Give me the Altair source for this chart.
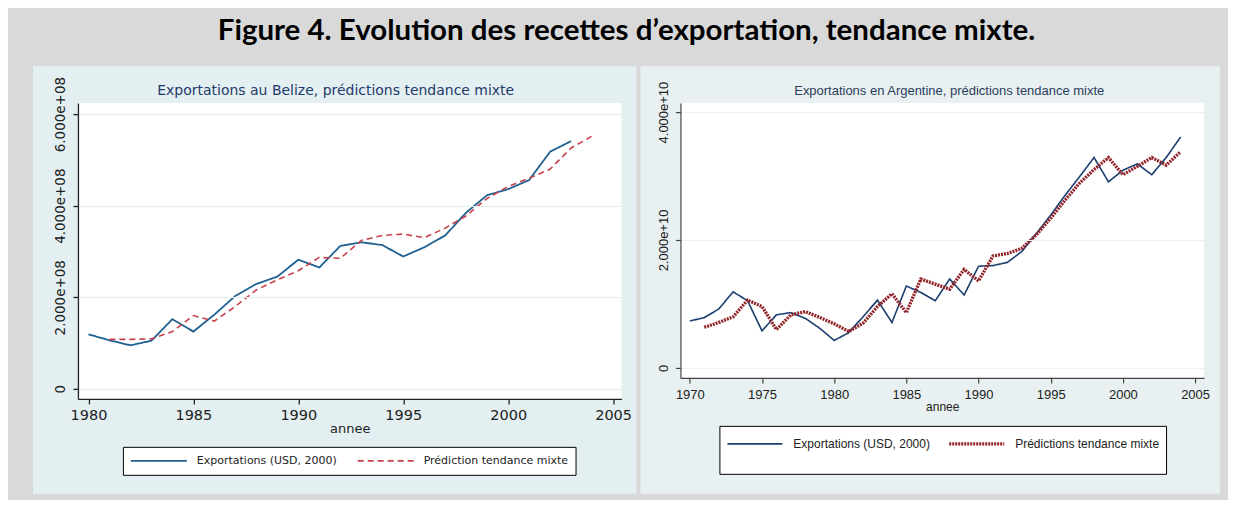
import altair as alt
import pandas as pd

# ---------------- Belize (valeurs en 1e8 USD) ----------------
bz_years = list(range(1980, 2004))
bz_exports = [1.19, 1.06, 0.95, 1.05, 1.52, 1.25, 1.62, 2.03, 2.29, 2.45, 2.82, 2.65,
              3.12, 3.20, 3.14, 2.89, 3.09, 3.35, 3.85, 4.23, 4.36, 4.56, 5.18, 5.41]
bz_pred_years = list(range(1981, 2005))
bz_pred = [1.08, 1.08, 1.09, 1.25, 1.60, 1.48, 1.80, 2.16, 2.38, 2.58, 2.87, 2.85,
           3.24, 3.35, 3.38, 3.30, 3.51, 3.78, 4.16, 4.42, 4.60, 4.80, 5.26, 5.52]
bz_names = ["Exportations (USD, 2000)", "Prédiction tendance mixte"]
bz_xticks = [1980, 1985, 1990, 1995, 2000, 2005]
bz_yticks = [0, 2, 4, 6]

# ---------------- Argentine (valeurs en 1e9 USD) ----------------
ar_years = list(range(1970, 2005))
ar_exports = [7.34, 7.86, 9.2, 11.9, 10.5, 5.8, 8.3, 8.65, 7.75, 6.2, 4.3, 5.5, 8.0, 10.6,
              7.1, 12.8, 11.8, 10.5, 13.9, 11.4, 15.9, 16.0, 16.5, 18.2, 21.0, 23.9,
              27.0, 29.9, 32.9, 29.1, 30.9, 31.9, 30.2, 32.9, 36.1]
ar_pred_years = list(range(1971, 2005))
ar_pred = [6.35, 7.1, 8.0, 10.6, 9.6, 6.0, 8.3, 8.8, 7.9, 6.9, 5.7, 7.0, 9.6, 11.6,
           8.65, 13.9, 13.1, 12.3, 15.4, 13.6, 17.5, 17.9, 18.7, 20.8, 23.4, 26.25,
           28.9, 31.0, 32.9, 30.2, 31.5, 32.9, 31.7, 33.8]
ar_names = ["Exportations (USD, 2000)", "Prédictions tendance mixte"]
ar_xticks = [1970, 1975, 1980, 1985, 1990, 1995, 2000, 2005]
ar_yticks = [0, 20, 40]

one = pd.DataFrame({"a": [0]})

# ---------------- Left panel ----------------
W1, H1 = 544, 296
df1 = pd.DataFrame({
    "annee": bz_years + bz_pred_years,
    "valeur": bz_exports + bz_pred,
    "serie": [bz_names[0]] * len(bz_years) + [bz_names[1]] * len(bz_pred_years),
})
F1 = "DejaVu Sans"
leg1 = alt.Legend(title=None, orient="none", legendX=45, legendY=344, direction="horizontal",
                  columns=2, symbolType="stroke", symbolSize=3136, clipHeight=14,
                  labelFont=F1, labelFontSize=11, labelColor="#222", labelOffset=9,
                  columnPadding=19, padding=7, strokeColor="black", fillColor="white",
                  zindex=3)
bg1 = alt.Chart(one).mark_rect(color="#e3eff1").encode(
    x=alt.value(-45), x2=alt.value(559), y=alt.value(-37), y2=alt.value(391))
white1 = alt.Chart(one).mark_rect(color="white").encode(
    x=alt.value(0), x2=alt.value(W1), y=alt.value(0), y2=alt.value(H1))
lines1 = alt.Chart(df1).mark_line().encode(
    x=alt.X("annee:Q", scale=alt.Scale(domain=[1979.5, 2005.4], nice=False, zero=False),
            axis=alt.Axis(values=bz_xticks, format="d", title="annee", grid=False,
                          labelFont=F1, labelFontSize=14.5, labelColor="#222",
                          titleFont=F1, titleFontSize=13, titleFontWeight="normal",
                          titleColor="#222", titlePadding=0, labelPadding=5,
                          tickSize=5, tickColor="#222", domainColor="#222",
                          domainWidth=1.3, tickWidth=1.3, zindex=1)),
    y=alt.Y("valeur:Q", scale=alt.Scale(domain=[-0.22, 6.24], nice=False, zero=False),
            axis=alt.Axis(values=bz_yticks, title=None, grid=True, gridColor="#e3eeef",
                          labelExpr="datum.value == 0 ? '0' : format(datum.value, '.3f') + 'e+08'",
                          labelAngle=270, labelAlign="center", labelBaseline="bottom",
                          labelFont=F1, labelFontSize=13.5, labelColor="#222", labelPadding=5,
                          tickSize=5, tickColor="#222", domainColor="#222",
                          domainWidth=1.3, tickWidth=1.3, zindex=1)),
    color=alt.Color("serie:N", scale=alt.Scale(domain=bz_names, range=["#1f6090", "#c8414c"]),
                    legend=leg1),
    strokeDash=alt.StrokeDash("serie:N", scale=alt.Scale(domain=bz_names, range=[[1, 0], [6, 4]]),
                              legend=leg1),
    strokeWidth=alt.StrokeWidth("serie:N", scale=alt.Scale(domain=bz_names, range=[1.8, 1.6]),
                                legend=leg1),
)
left = alt.layer(bg1, white1, lines1).properties(
    width=W1, height=H1,
    title=alt.TitleParams("Exportations au Belize, prédictions tendance mixte", font=F1,
                          fontSize=14, fontWeight="normal", color="#1f3b6b",
                          anchor="middle", frame="group", dx=-14, offset=-32, zindex=3),
)

# ---------------- Right panel ----------------
W2, H2 = 524, 275
df2 = pd.DataFrame({
    "annee": ar_years + ar_pred_years,
    "valeur": ar_exports + ar_pred,
    "serie": [ar_names[0]] * len(ar_years) + [ar_names[1]] * len(ar_pred_years),
})
F2 = "Liberation Sans"
leg2 = alt.Legend(title=" ", titleOrient="bottom", titleFontSize=10, titlePadding=2,
                  orient="none", legendX=39, legendY=323, direction="horizontal",
                  columns=2, symbolType="stroke", symbolSize=3025, clipHeight=24,
                  labelFont=F2, labelFontSize=12, labelColor="#222", labelOffset=9,
                  columnPadding=17, padding=6, strokeColor="black", fillColor="white",
                  zindex=3)
bg2 = alt.Chart(one).mark_rect(color="#e8f0f1").encode(
    x=alt.value(-40), x2=alt.value(540), y=alt.value(-37), y2=alt.value(391))
white2 = alt.Chart(one).mark_rect(color="white").encode(
    x=alt.value(0), x2=alt.value(W2), y=alt.value(0), y2=alt.value(H2))
lines2 = alt.Chart(df2).mark_line().encode(
    x=alt.X("annee:Q", scale=alt.Scale(domain=[1969.35, 2005.62], nice=False, zero=False),
            axis=alt.Axis(values=ar_xticks, format="d", title="annee", grid=False,
                          labelFont=F2, labelFontSize=13, labelColor="#222",
                          titleFont=F2, titleFontSize=12, titleFontWeight="normal",
                          titleColor="#222", titlePadding=0, labelPadding=6,
                          tickSize=5, tickColor="#444", domainColor="#444",
                          domainWidth=1.2, tickWidth=1.2, zindex=1)),
    y=alt.Y("valeur:Q", scale=alt.Scale(domain=[-1.56, 41.4], nice=False, zero=False),
            axis=alt.Axis(values=ar_yticks, title=None, grid=True, gridColor="#eaf1f1",
                          labelExpr="datum.value == 0 ? '0' : format(datum.value / 10, '.3f') + 'e+10'",
                          labelAngle=270, labelAlign="center", labelBaseline="bottom",
                          labelFont=F2, labelFontSize=13, labelColor="#222", labelPadding=5,
                          tickSize=5, tickColor="#444", domainColor="#444",
                          domainWidth=1.2, tickWidth=1.2, zindex=1)),
    color=alt.Color("serie:N", scale=alt.Scale(domain=ar_names, range=["#1b3f70", "#922329"]),
                    legend=leg2),
    strokeDash=alt.StrokeDash("serie:N", scale=alt.Scale(domain=ar_names, range=[[1, 0], [2, 1]]),
                              legend=leg2),
    strokeWidth=alt.StrokeWidth("serie:N", scale=alt.Scale(domain=ar_names, range=[1.6, 3.3]),
                                legend=leg2),
)
right = alt.layer(bg2, white2, lines2).properties(
    width=W2, height=H2,
    title=alt.TitleParams("Exportations en Argentine, prédictions tendance mixte", font=F2,
                          fontSize=13, fontWeight="normal", color="#2b3d5c",
                          anchor="middle", frame="group", dx=7, offset=-32, zindex=3),
)

chart = alt.hconcat(
    left, right, spacing=4,
    title=alt.TitleParams("Figure 4. Evolution des recettes d’exportation, tendance mixte.",
                          font="Lato", fontSize=29.5, fontWeight="bold", color="black",
                          anchor="middle", offset=20),
).resolve_scale(
    x="independent", y="independent", color="independent",
    strokeDash="independent", strokeWidth="independent",
).properties(
    padding={"left": 25, "top": 7, "right": 8, "bottom": 6},
).configure(background="#d9d9d9").configure_view(stroke=None)

chart.save("out.html", embed_options={"renderer": "svg", "actions": False})
